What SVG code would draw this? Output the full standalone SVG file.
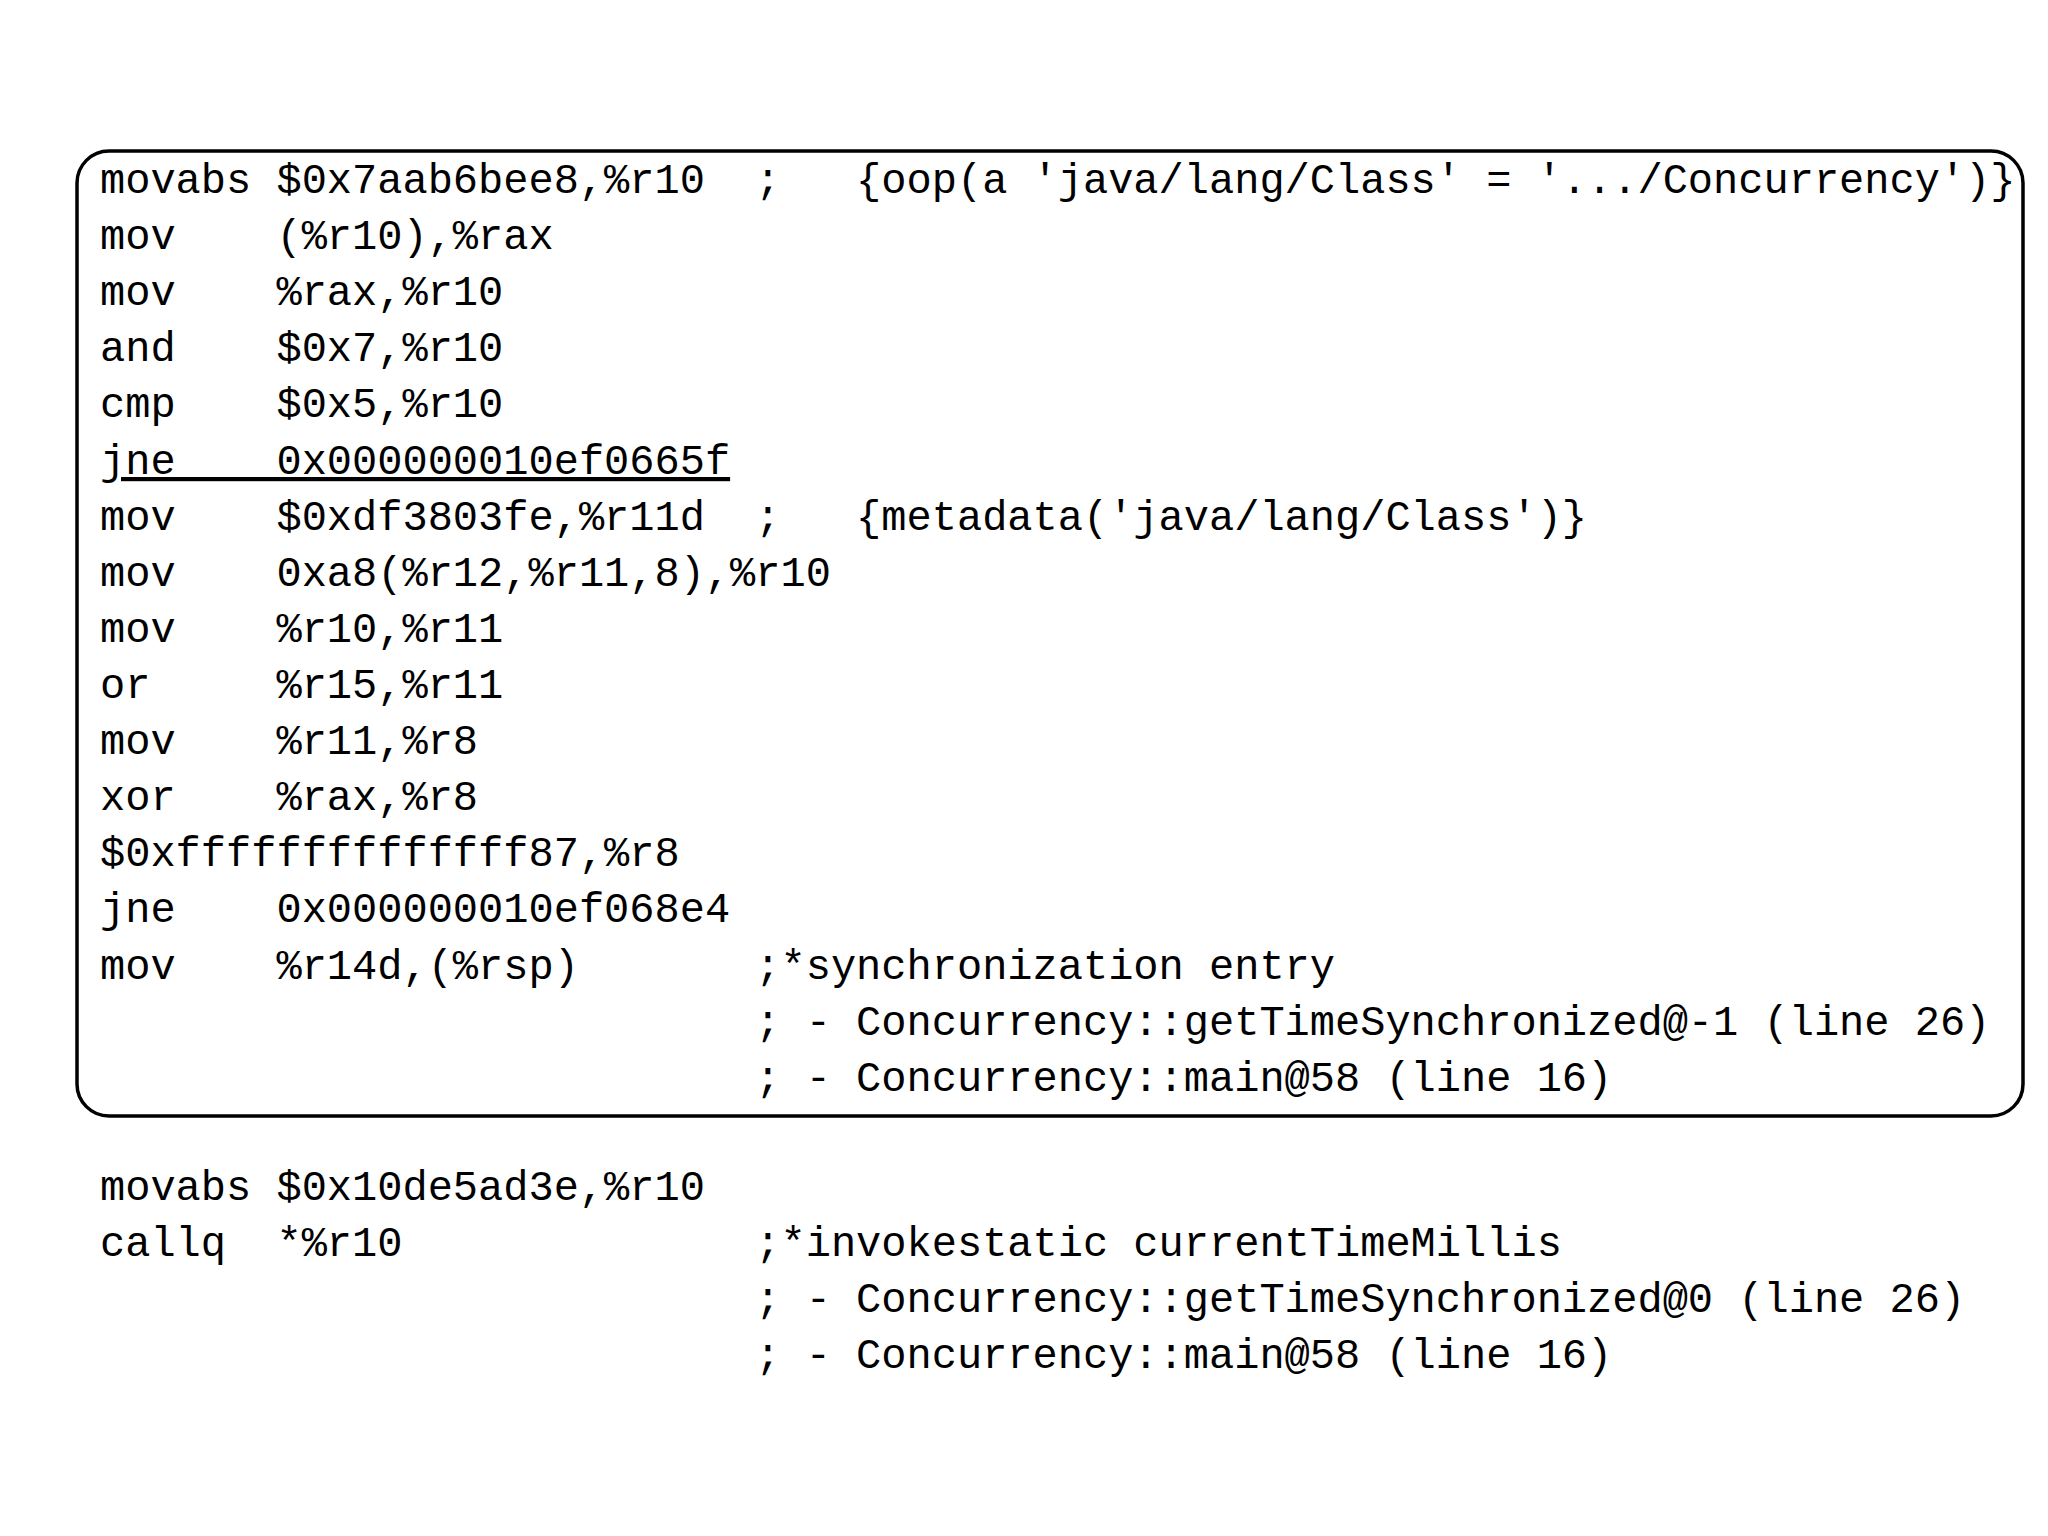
<svg xmlns="http://www.w3.org/2000/svg" width="2048" height="1536" viewBox="0 0 2048 1536">
<style>
text{font-family:"Liberation Mono","DejaVu Sans Mono",monospace;font-size:42px;fill:#000;white-space:pre}
</style>
<rect width="2048" height="1536" fill="#fff"/>
<g id="box"><rect x="77" y="151" width="1946" height="965" rx="32" fill="none" stroke="#000" stroke-width="3.5"/></g>
<g id="code" xml:space="preserve" transform="translate(0,-3)">
<text x="100" y="196">movabs $0x7aab6bee8,%r10  ;   {oop(a 'java/lang/Class' = '.../Concurrency')}</text>
<text x="100" y="252">mov    (%r10),%rax</text>
<text x="100" y="308">mov    %rax,%r10</text>
<text x="100" y="364">and    $0x7,%r10</text>
<text x="100" y="420">cmp    $0x5,%r10</text>
<text x="100" y="477" text-decoration="underline">jne    0x000000010ef0665f</text>
<text x="100" y="533">mov    $0xdf3803fe,%r11d  ;   {metadata('java/lang/Class')}</text>
<text x="100" y="589">mov    0xa8(%r12,%r11,8),%r10</text>
<text x="100" y="645">mov    %r10,%r11</text>
<text x="100" y="701">or     %r15,%r11</text>
<text x="100" y="757">mov    %r11,%r8</text>
<text x="100" y="813">xor    %rax,%r8</text>
<text x="100" y="869">$0xffffffffffffff87,%r8</text>
<text x="100" y="925">jne    0x000000010ef068e4</text>
<text x="100" y="982">mov    %r14d,(%rsp)       ;*synchronization entry</text>
<text x="100" y="1038">                          ; - Concurrency::getTimeSynchronized@-1 (line 26)</text>
<text x="100" y="1094">                          ; - Concurrency::main@58 (line 16)</text>
<text x="100" y="1203">movabs $0x10de5ad3e,%r10</text>
<text x="100" y="1259">callq  *%r10              ;*invokestatic currentTimeMillis</text>
<text x="100" y="1315">                          ; - Concurrency::getTimeSynchronized@0 (line 26)</text>
<text x="100" y="1371">                          ; - Concurrency::main@58 (line 16)</text>
</g>
</svg>
